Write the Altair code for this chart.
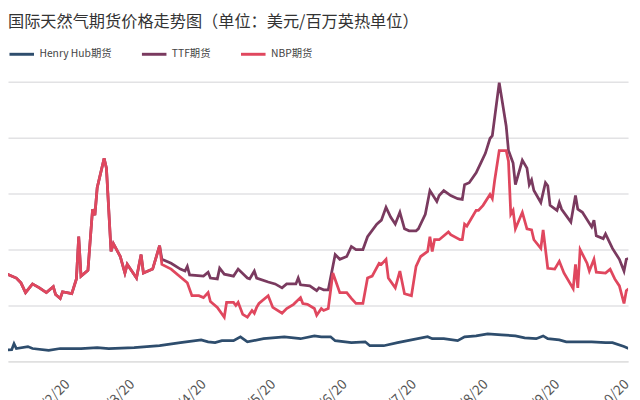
import altair as alt
import pandas as pd

# ---- data (USD / MMBtu) ----
series_names = ["Henry Hub期货", "TTF期货", "NBP期货"]
series_colors = ["#2e4d6d", "#7a3a5f", "#e0475e"]

hh_dates = ["2022-01-24", "2022-01-29", "2022-01-30", "2022-01-31", "2022-02-05", "2022-02-07",
            "2022-02-14", "2022-02-19", "2022-02-28", "2022-03-07", "2022-03-12", "2022-03-23",
            "2022-04-03", "2022-04-12", "2022-04-21", "2022-04-24", "2022-04-27", "2022-04-30",
            "2022-05-05", "2022-05-08", "2022-05-11", "2022-05-18", "2022-05-27", "2022-06-03",
            "2022-06-09", "2022-06-12", "2022-06-16", "2022-06-18", "2022-06-25", "2022-07-01",
            "2022-07-03", "2022-07-09", "2022-07-15", "2022-07-21", "2022-07-28", "2022-07-30",
            "2022-08-04", "2022-08-10", "2022-08-13", "2022-08-18", "2022-08-23", "2022-08-29",
            "2022-09-04", "2022-09-08", "2022-09-13", "2022-09-16", "2022-09-18", "2022-09-23",
            "2022-09-26", "2022-10-02", "2022-10-07", "2022-10-13", "2022-10-16", "2022-10-21",
            "2022-10-23"]
hh_values = [3.9, 4.2, 6.3, 4.6, 5.3, 4.6,
             3.9, 4.6, 4.6, 4.9, 4.6, 4.9,
             5.6, 6.7, 7.7, 7.0, 6.7, 7.4,
             7.4, 8.8, 7.0, 8.1, 8.8, 8.1,
             9.1, 8.8, 8.8, 7.4, 6.7, 7.0,
             5.6, 5.6, 6.7, 7.7, 8.8, 8.1,
             8.1, 7.4, 8.8, 9.1, 9.8, 9.5,
             9.1, 8.4, 8.1, 9.1, 8.1, 7.7,
             7.0, 7.0, 7.0, 6.7, 6.7, 5.3,
             4.6]

# TTF and NBP move together until early April
common_dates = ["2022-01-24", "2022-01-27", "2022-01-31", "2022-02-02", "2022-02-04", "2022-02-07",
                "2022-02-10", "2022-02-13", "2022-02-16", "2022-02-17", "2022-02-19", "2022-02-20",
                "2022-02-24", "2022-02-26", "2022-02-27", "2022-02-28", "2022-03-03", "2022-03-05",
                "2022-03-06", "2022-03-07", "2022-03-10", "2022-03-11", "2022-03-13", "2022-03-14",
                "2022-03-17", "2022-03-19", "2022-03-20", "2022-03-24", "2022-03-26", "2022-03-27",
                "2022-03-31", "2022-04-03"]
common_values = [25.6, 31.2, 29.8, 28.1, 24.6, 27.7,
                 26.3, 24.6, 26.7, 23.9, 22.5, 24.9,
                 24.2, 29.5, 44.6, 30.5, 32.6, 54.4,
                 52.3, 62.1, 72.6, 69.1, 39.3, 42.1,
                 37.5, 31.6, 34.7, 29.8, 38.2, 31.6,
                 33.0, 41.4]

ttf_tail_dates = ["2022-04-04", "2022-04-08", "2022-04-12", "2022-04-14", "2022-04-15", "2022-04-16",
                  "2022-04-22", "2022-04-24", "2022-04-25", "2022-04-28", "2022-04-29", "2022-05-01",
                  "2022-05-05", "2022-05-07", "2022-05-11", "2022-05-12", "2022-05-13", "2022-05-14",
                  "2022-05-15", "2022-05-20", "2022-05-23", "2022-05-26", "2022-05-28", "2022-06-01",
                  "2022-06-02", "2022-06-03", "2022-06-07", "2022-06-10", "2022-06-11", "2022-06-13",
                  "2022-06-15", "2022-06-16", "2022-06-18", "2022-06-20", "2022-06-23", "2022-06-25",
                  "2022-06-27", "2022-06-30", "2022-07-02", "2022-07-06", "2022-07-08", "2022-07-10",
                  "2022-07-12", "2022-07-14", "2022-07-16", "2022-07-18", "2022-07-20", "2022-07-23",
                  "2022-07-24", "2022-07-27", "2022-07-29", "2022-08-01", "2022-08-02", "2022-08-04",
                  "2022-08-07", "2022-08-10", "2022-08-12", "2022-08-13", "2022-08-15", "2022-08-18",
                  "2022-08-20", "2022-08-22", "2022-08-24", "2022-08-25", "2022-08-28", "2022-08-31",
                  "2022-09-01", "2022-09-03", "2022-09-04", "2022-09-07", "2022-09-09", "2022-09-10",
                  "2022-09-11", "2022-09-12", "2022-09-15", "2022-09-17", "2022-09-18", "2022-09-19",
                  "2022-09-22", "2022-09-23", "2022-09-24", "2022-09-28", "2022-09-30", "2022-10-01",
                  "2022-10-03", "2022-10-07", "2022-10-08", "2022-10-09", "2022-10-12", "2022-10-13",
                  "2022-10-16", "2022-10-19", "2022-10-21", "2022-10-22", "2022-10-23"]
ttf_tail_values = [36.5, 35.1, 33.0, 32.3, 34.0, 30.9,
                   30.5, 31.9, 29.8, 29.5, 33.3, 31.2,
                   30.5, 33.0, 29.8, 29.5, 30.9, 32.3,
                   29.8, 28.4, 27.7, 26.3, 27.7, 27.7,
                   29.8, 27.4, 27.0, 25.3, 26.3, 25.6,
                   25.6, 29.8, 38.2, 36.5, 37.5, 41.1,
                   40.0, 40.0, 44.6, 49.1, 50.5, 55.1,
                   51.6, 49.1, 53.3, 47.4, 46.7, 46.7,
                   47.4, 52.6, 61.1, 57.2, 59.3, 61.1,
                   59.3, 58.2, 57.9, 63.2, 63.9, 67.4,
                   70.9, 74.4, 79.7, 80.7, 99.7, 84.2,
                   75.4, 70.9, 63.2, 71.9, 69.1, 63.2,
                   64.9, 61.1, 56.8, 63.9, 62.8, 55.8,
                   54.0, 56.8, 54.4, 49.8, 59.3, 54.4,
                   53.3, 48.1, 50.5, 44.9, 43.9, 45.6,
                   40.4, 36.5, 32.3, 36.5, 36.8]

nbp_tail_dates = ["2022-04-04", "2022-04-08", "2022-04-15", "2022-04-17", "2022-04-20", "2022-04-22",
                  "2022-04-24", "2022-04-25", "2022-04-28", "2022-05-01", "2022-05-02", "2022-05-05",
                  "2022-05-06", "2022-05-07", "2022-05-09", "2022-05-11", "2022-05-13", "2022-05-14",
                  "2022-05-15", "2022-05-16", "2022-05-20", "2022-05-22", "2022-05-26", "2022-05-28",
                  "2022-05-31", "2022-06-03", "2022-06-04", "2022-06-06", "2022-06-09", "2022-06-10",
                  "2022-06-12", "2022-06-13", "2022-06-15", "2022-06-17", "2022-06-20", "2022-06-23",
                  "2022-06-25", "2022-06-27", "2022-06-30", "2022-07-02", "2022-07-04", "2022-07-07",
                  "2022-07-08", "2022-07-10", "2022-07-11", "2022-07-14", "2022-07-16", "2022-07-18",
                  "2022-07-21", "2022-07-23", "2022-07-25", "2022-07-28", "2022-07-29", "2022-07-30",
                  "2022-07-31", "2022-08-02", "2022-08-06", "2022-08-07", "2022-08-11", "2022-08-12",
                  "2022-08-13", "2022-08-14", "2022-08-18", "2022-08-19", "2022-08-21", "2022-08-24",
                  "2022-08-25", "2022-08-26", "2022-08-28", "2022-08-31", "2022-09-01", "2022-09-02",
                  "2022-09-03", "2022-09-04", "2022-09-07", "2022-09-09", "2022-09-11", "2022-09-12",
                  "2022-09-15", "2022-09-16", "2022-09-18", "2022-09-21", "2022-09-23", "2022-09-25",
                  "2022-09-29", "2022-09-30", "2022-10-01", "2022-10-02", "2022-10-05", "2022-10-06",
                  "2022-10-08", "2022-10-09", "2022-10-13", "2022-10-15", "2022-10-17", "2022-10-19",
                  "2022-10-21", "2022-10-22", "2022-10-23"]
nbp_tail_values = [34.7, 33.0, 28.1, 23.5, 23.5, 22.8,
                   24.6, 21.4, 19.3, 15.8, 21.1, 21.1,
                   20.0, 21.1, 16.8, 15.8, 18.2, 17.2,
                   19.3, 20.7, 23.5, 19.3, 17.2, 18.9,
                   20.4, 22.8, 20.7, 20.4, 18.9, 16.5,
                   18.9, 18.2, 18.9, 31.6, 24.6, 24.6,
                   22.5, 20.7, 20.7, 29.8, 30.5, 35.1,
                   34.7, 36.5, 29.8, 26.3, 32.3, 24.2,
                   23.5, 34.0, 37.5, 39.3, 44.6, 39.3,
                   43.5, 43.5, 46.3, 45.3, 43.5, 43.5,
                   49.1, 48.4, 54.0, 54.0, 55.8, 59.7,
                   58.2, 64.6, 75.4, 75.4, 71.6, 52.6,
                   54.0, 47.4, 53.3, 47.4, 47.0, 43.5,
                   40.4, 47.0, 33.3, 33.0, 35.8, 31.6,
                   26.0, 34.7, 26.3, 40.0, 35.1, 32.3,
                   36.5, 31.9, 31.6, 33.0, 29.5, 27.0,
                   20.7, 25.3, 26.0]

tick_months = [2, 3, 4, 5, 6, 7, 8, 9, 10]
y_ticks = [0, 20, 40, 60, 80, 100]

title_text = "国际天然气期货价格走势图（单位：美元/百万英热单位）"

# ---- table ----
frames = [
    pd.DataFrame({"date": hh_dates, "value": hh_values, "series": series_names[0]}),
    pd.DataFrame({"date": common_dates + ttf_tail_dates, "value": common_values + ttf_tail_values,
                  "series": series_names[1]}),
    pd.DataFrame({"date": common_dates + nbp_tail_dates, "value": common_values + nbp_tail_values,
                  "series": series_names[2]}),
]
df = pd.concat(frames, ignore_index=True)

FONT = "Noto Sans CJK SC"

x_domain = [alt.DateTime(year=2022, month=1, date=27, hours=9, minutes=32, utc=True),
            alt.DateTime(year=2022, month=10, date=22, hours=18, minutes=15, utc=True)]
x_ticks = [alt.DateTime(year=2022, month=m, date=20, utc=True) for m in tick_months]

chart = alt.Chart(df).mark_line(strokeWidth=2.8, clip=True).encode(
    x=alt.X("date:T",
            scale=alt.Scale(type="utc", domain=x_domain),
            axis=alt.Axis(values=x_ticks, format="%Y/%-m/%d", labelAngle=-45, title=None,
                          grid=False, ticks=False, domain=True, domainColor="#dddddd",
                          domainWidth=1.5, labelFontSize=14, labelColor="#555555",
                          labelFont=FONT, labelPadding=16)),
    y=alt.Y("value:Q",
            scale=alt.Scale(domain=[0, 100], nice=False),
            axis=alt.Axis(values=y_ticks, labels=False, ticks=False, domain=False, title=None,
                          grid=True, gridColor="#e2e2e4", gridWidth=1.5)),
    color=alt.Color("series:N",
                    scale=alt.Scale(domain=series_names, range=series_colors),
                    legend=alt.Legend(title=None, orient="top", direction="horizontal",
                                      symbolType="stroke", symbolSize=625, symbolStrokeWidth=3,
                                      labelFontSize=10.5, labelColor="#444444", labelFont=FONT,
                                      columnPadding=24, offset=22)),
).properties(
    width=632,
    height=285,
    padding={"left": 0, "top": 2, "right": 0, "bottom": 0},
    background="#ffffff",
    title=alt.TitleParams(title_text, anchor="start", fontSize=16.5, font=FONT,
                          fontWeight="normal", color="#333333", offset=10),
).configure_view(stroke=None)

chart.save("out.html", embed_options={"renderer": "svg", "actions": False})
